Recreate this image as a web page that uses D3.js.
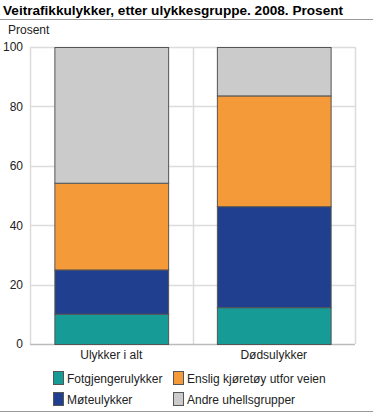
<!DOCTYPE html>
<html>
<head>
<meta charset="utf-8">
<script src="https://cdn.jsdelivr.net/npm/d3@7"></script>
<style>
  body { margin: 0; background: #fff; }
  svg { display: block; font-family: 'Liberation Sans', Arial, sans-serif; }
</style>
</head>
<body>
<div id="chart"></div>
<script>
const categories = ['Ulykker i alt', 'Dødsulykker']
const seriesNames = ['Fotgjengerulykker', 'Møteulykker', 'Enslig kjøretøy utfor veien', 'Andre uhellsgrupper']
const fotgjenger = [10.2, 12.4]
const moteulykker = [14.9, 34.0]
const enslig = [29.2, 37.3]
const andre = [45.7, 16.3]
const yTicks = [0, 20, 40, 60, 80, 100]
const colors = ['#169b97', '#213f8f', '#f59a38', '#cbcbcb']

const width = 373
const height = 413
const plot = { left: 30, right: 355, top: 47, bottom: 344 }

const rows = categories.map((c, i) => ({
  cat: c,
  [seriesNames[0]]: fotgjenger[i],
  [seriesNames[1]]: moteulykker[i],
  [seriesNames[2]]: enslig[i],
  [seriesNames[3]]: andre[i]
}))
const stacked = d3.stack().keys(seriesNames)(rows)

const svg = d3.select('#chart').append('svg')
    .attr('width', width)
    .attr('height', height)

// title
svg.append('text')
    .attr('x', 3)
    .attr('y', 15)
    .attr('font-size', 13.6)
    .attr('font-weight', 'bold')
    .attr('fill', '#000')
    .text('Veitrafikkulykker, etter ulykkesgruppe. 2008. Prosent')

svg.append('line')
    .attr('x1', 0).attr('x2', width)
    .attr('y1', 19.5).attr('y2', 19.5)
    .attr('stroke', '#999')
    .attr('stroke-width', 1)

svg.append('text')
    .attr('x', 8)
    .attr('y', 34)
    .attr('font-size', 12)
    .attr('fill', '#222')
    .text('Prosent')

const xScale = d3.scaleBand()
    .domain(categories)
    .range([plot.left, plot.right])
    .paddingInner(0.3)
    .paddingOuter(0.15)

const bandFull = d3.scaleBand()
    .domain(categories)
    .range([plot.left, plot.right])

const yScale = d3.scaleLinear()
    .domain([0, 100])
    .range([plot.bottom, plot.top])

// horizontal grid
svg.append('g')
    .selectAll('line')
    .data(yTicks.filter(t => t > 0))
    .enter().append('line')
    .attr('x1', plot.left).attr('x2', plot.right)
    .attr('y1', d => Math.round(yScale(d)) + 0.5)
    .attr('y2', d => Math.round(yScale(d)) + 0.5)
    .attr('stroke', '#dcdcdc')
    .attr('stroke-width', 1.5)

// vertical grid at category boundaries
const vlines = categories.map(c => bandFull(c)).concat([plot.right])
svg.append('g')
    .selectAll('line')
    .data(vlines)
    .enter().append('line')
    .attr('x1', d => Math.round(d) + 0.5).attr('x2', d => Math.round(d) + 0.5)
    .attr('y1', plot.top).attr('y2', plot.bottom)
    .attr('stroke', '#dcdcdc')
    .attr('stroke-width', 1.5)

// bottom axis line
svg.append('line')
    .attr('x1', plot.left).attr('x2', plot.right)
    .attr('y1', plot.bottom + 0.5).attr('y2', plot.bottom + 0.5)
    .attr('stroke', '#bbb')
    .attr('stroke-width', 1.5)

// y axis
const yAxis = d3.axisLeft(yScale).tickValues(yTicks).tickSize(0).tickPadding(7)
const yAxisEl = svg.append('g')
    .attr('transform', `translate(${plot.left}, 0)`)
    .call(yAxis)
yAxisEl.select('.domain').remove()
yAxisEl.selectAll('text')
    .attr('font-size', 12)
    .attr('font-family', 'Liberation Sans, Arial, sans-serif')
    .attr('fill', '#222')

// bars
svg.append('g')
    .selectAll('g')
    .data(stacked).enter()
  .append('g')
    .attr('fill', (d, i) => colors[i])
    .selectAll('rect')
    .data(d => d).enter()
  .append('rect')
    .attr('x', d => xScale(d.data.cat) + 0.5)
    .attr('y', d => yScale(d[1]) + 0.5)
    .attr('width', xScale.bandwidth())
    .attr('height', d => yScale(d[0]) - yScale(d[1]))
    .attr('stroke', '#555')
    .attr('stroke-width', 1)

// x axis labels
const xAxis = d3.axisBottom(bandFull).tickSize(0).tickPadding(6)
const xAxisEl = svg.append('g')
    .attr('transform', `translate(0, ${plot.bottom})`)
    .call(xAxis)
xAxisEl.select('.domain').remove()
xAxisEl.selectAll('text')
    .attr('font-size', 12)
    .attr('font-family', 'Liberation Sans, Arial, sans-serif')
    .attr('fill', '#222')

// legend
const legendPos = [
  { x: 53, y: 371 },
  { x: 53, y: 392 },
  { x: 173, y: 371 },
  { x: 173, y: 392 }
]
const legend = svg.append('g')
    .selectAll('g')
    .data(seriesNames).enter()
  .append('g')
    .attr('transform', (d, i) => `translate(${legendPos[i].x}, ${legendPos[i].y})`)

legend.append('rect')
    .attr('x', 0.5).attr('y', 0.5)
    .attr('width', 10).attr('height', 13)
    .attr('fill', (d, i) => colors[i])
    .attr('stroke', '#555')
    .attr('stroke-width', 1)

legend.append('text')
    .attr('x', 14)
    .attr('y', 11.5)
    .attr('font-size', 12)
    .attr('fill', '#222')
    .text(d => d)

svg.append('line')
    .attr('x1', 0).attr('x2', width)
    .attr('y1', 411.5).attr('y2', 411.5)
    .attr('stroke', '#999')
    .attr('stroke-width', 1)
</script>
</body>
</html>
